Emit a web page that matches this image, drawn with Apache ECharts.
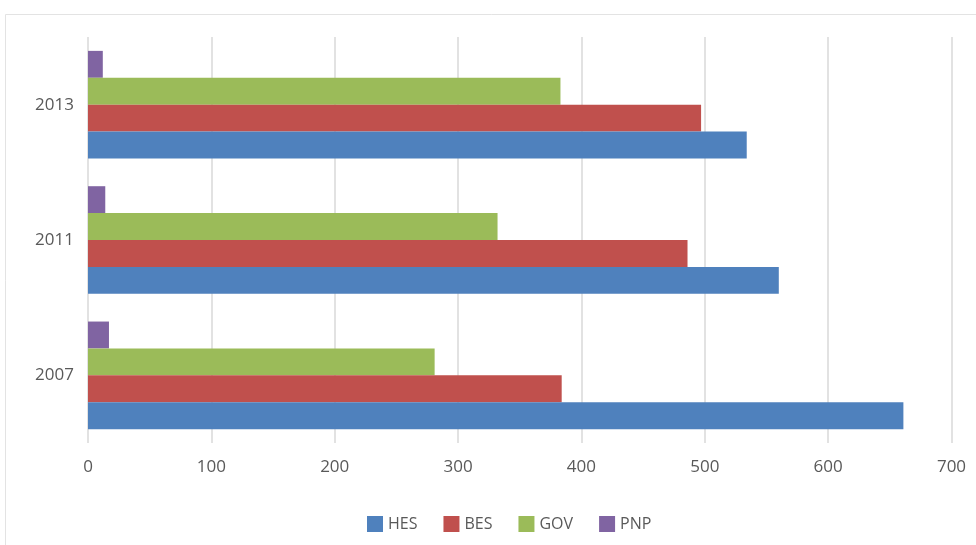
<!DOCTYPE html>
<html>
<head>
<meta charset="utf-8">
<script src="https://cdn.jsdelivr.net/npm/echarts@6/dist/echarts.min.js"></script>
<style>
  html, body { margin: 0; padding: 0; background: #fff; }
  #main { width: 976px; height: 545px; }
</style>
</head>
<body>
<div id="main"></div>
<script>
var years = ['2007', '2011', '2013'];
var hes = [661, 560, 534];
var bes = [384, 486, 497];
var gov = [281, 332, 383];
var pnp = [17, 14, 12];
var xTicks = { min: 0, max: 700, interval: 100 };

var chart = echarts.init(document.getElementById('main'));
var labelColor = '#595959';
var font = 'Open Sans';

// ECharts stacks the first series at the top of a horizontal group,
// so series are listed in reverse to keep HES at the bottom like Excel.
function bar(name, data, color) {
  return {
    name: name,
    type: 'bar',
    data: data,
    barCategoryGap: '20.5%',
    barGap: '0%',
    itemStyle: { color: color }
  };
}

var option = {
  animation: false,
  backgroundColor: '#fff',
  graphic: [{
    type: 'rect',
    shape: { x: 5.5, y: 14.5, width: 1200, height: 1200 },
    style: { fill: 'none', stroke: '#e3e3e3', lineWidth: 1 },
    silent: true
  }],
  grid: { left: 88, right: 24.5, top: 37, bottom: 102 },
  legend: {
    left: 362,
    top: 511,
    itemWidth: 16,
    itemHeight: 16,
    itemGap: 26,
    icon: 'rect',
    textStyle: { color: labelColor, fontSize: 16, fontFamily: font },
    data: ['HES', 'BES', 'GOV', 'PNP']
  },
  xAxis: {
    type: 'value',
    min: xTicks.min,
    max: xTicks.max,
    interval: xTicks.interval,
    axisLine: { show: false },
    axisTick: { show: false },
    splitLine: { lineStyle: { color: '#d9d9d9', width: 1.5 } },
    axisLabel: { color: labelColor, fontSize: 17, fontFamily: font, margin: 16 }
  },
  yAxis: {
    type: 'category',
    data: years,
    axisLine: { show: false },
    axisTick: { show: false },
    axisLabel: { color: labelColor, fontSize: 17, fontFamily: font, margin: 14 }
  },
  series: [
    bar('PNP', pnp, '#8064a2'),
    bar('GOV', gov, '#9bbb59'),
    bar('BES', bes, '#c0504d'),
    bar('HES', hes, '#4f81bd')
  ]
};

chart.setOption(option);
</script>
</body>
</html>
